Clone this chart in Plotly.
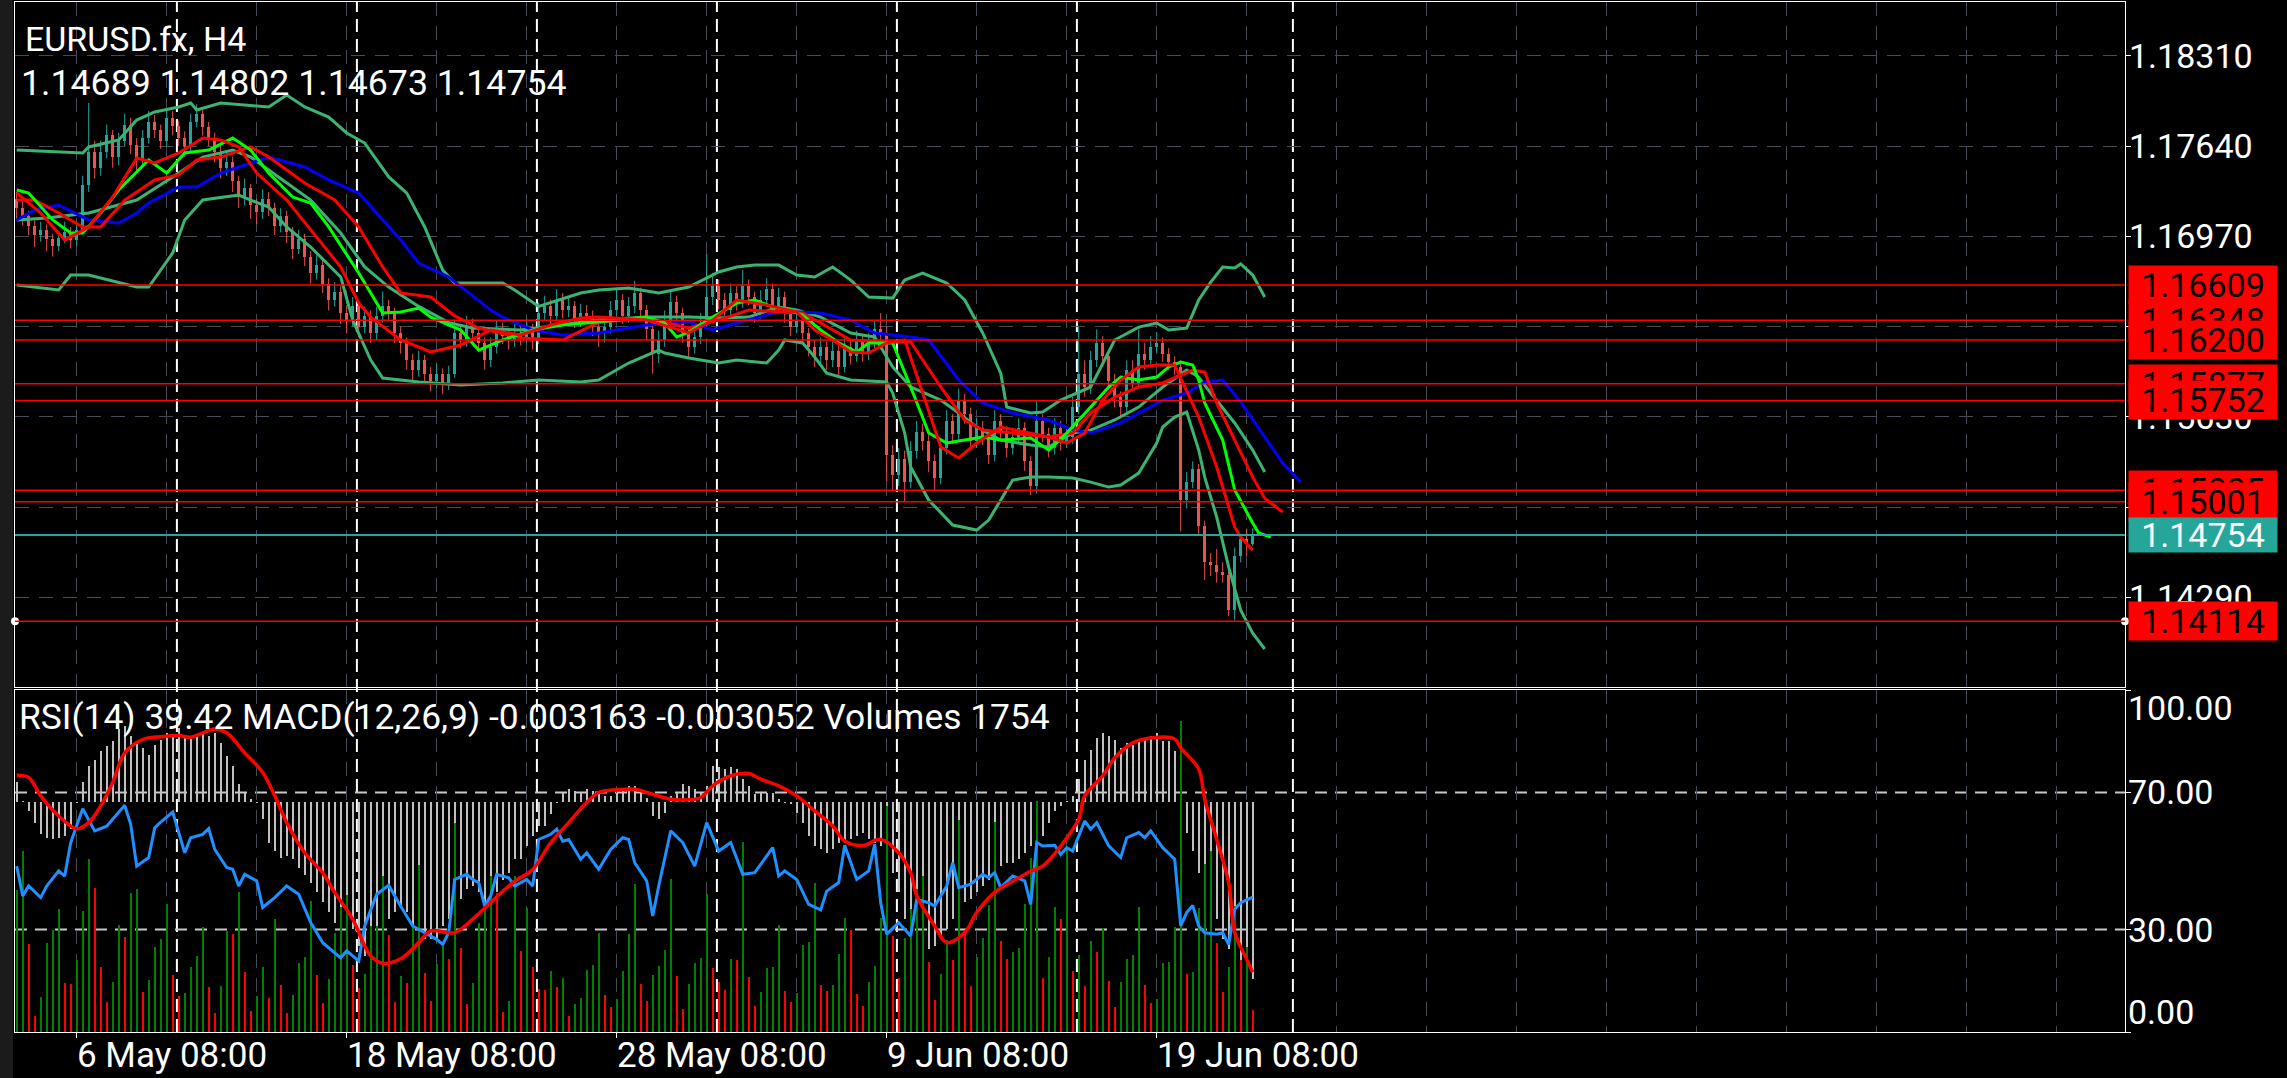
import plotly.graph_objects as go

# ---------------------------------------------------------------- data
CLOSE = [
    1.17180, 1.17120, 1.17050, 1.16980, 1.17020, 1.16950, 1.16900, 1.16960, 1.17000, 1.16940,
    1.17020, 1.17350, 1.17600, 1.17480, 1.17600, 1.17720, 1.17560, 1.17680, 1.17800, 1.17650,
    1.17540, 1.17700, 1.17820, 1.17760, 1.17680, 1.17850, 1.17790, 1.17700, 1.17640, 1.17820,
    1.17880, 1.17780, 1.17700, 1.17600, 1.17480, 1.17520, 1.17380, 1.17260, 1.17330, 1.17200,
    1.17150, 1.17250, 1.17180, 1.17050, 1.17120, 1.17000, 1.16880, 1.16950, 1.16820, 1.16700,
    1.16760, 1.16620, 1.16500, 1.16560, 1.16400, 1.16350, 1.16450, 1.16300, 1.16380, 1.16250,
    1.16380, 1.16450, 1.16400, 1.16250, 1.16180, 1.16050, 1.15980, 1.16050, 1.15950, 1.15900,
    1.15950, 1.15880, 1.15950, 1.16250, 1.16200, 1.16300, 1.16250, 1.16180, 1.16050, 1.16150,
    1.16280, 1.16230, 1.16200, 1.16250, 1.16220, 1.16280, 1.16200, 1.16400, 1.16450, 1.16380,
    1.16500, 1.16420, 1.16450, 1.16350, 1.16400, 1.16380, 1.16300, 1.16250, 1.16300, 1.16420,
    1.16500, 1.16380, 1.16450, 1.16550, 1.16420, 1.16280, 1.16100, 1.16200, 1.16350, 1.16480,
    1.16400, 1.16250, 1.16150, 1.16220, 1.16330, 1.16520, 1.16600, 1.16500, 1.16420, 1.16550,
    1.16480, 1.16600, 1.16520, 1.16400, 1.16500, 1.16580, 1.16450, 1.16520, 1.16400, 1.16300,
    1.16350, 1.16250, 1.16150, 1.16080, 1.16150, 1.16050, 1.16120, 1.16000, 1.16150, 1.16080,
    1.16200, 1.16100, 1.16180, 1.16280, 1.16250, 1.15350, 1.15200, 1.15320, 1.15150, 1.15380,
    1.15520, 1.15450, 1.15300, 1.15180, 1.15400, 1.15600, 1.15500, 1.15750, 1.15650, 1.15450,
    1.15550, 1.15480, 1.15350, 1.15600, 1.15520, 1.15400, 1.15480, 1.15550, 1.15300, 1.15120,
    1.15600, 1.15500, 1.15400, 1.15550, 1.15450, 1.15480, 1.15700, 1.15950, 1.15850, 1.16050,
    1.16180, 1.16080, 1.15900, 1.15780, 1.15700, 1.15980, 1.15880, 1.16100, 1.16050, 1.16150,
    1.16180, 1.16100, 1.16040, 1.16000, 1.15010, 1.15150, 1.15240, 1.14820, 1.14550, 1.14530,
    1.14480, 1.14460, 1.14200, 1.14600, 1.14720, 1.14689, 1.14754]

OPEN = [
    1.17250, 1.17180, 1.17120, 1.17050, 1.16980, 1.17020, 1.16950, 1.16900, 1.16960, 1.17000,
    1.16940, 1.17020, 1.17350, 1.17600, 1.17480, 1.17600, 1.17720, 1.17560, 1.17680, 1.17800,
    1.17650, 1.17540, 1.17700, 1.17820, 1.17760, 1.17680, 1.17850, 1.17790, 1.17700, 1.17640,
    1.17820, 1.17880, 1.17780, 1.17700, 1.17600, 1.17480, 1.17520, 1.17380, 1.17260, 1.17330,
    1.17200, 1.17150, 1.17250, 1.17180, 1.17050, 1.17120, 1.17000, 1.16880, 1.16950, 1.16820,
    1.16700, 1.16760, 1.16620, 1.16500, 1.16560, 1.16400, 1.16350, 1.16450, 1.16300, 1.16380,
    1.16250, 1.16380, 1.16450, 1.16400, 1.16250, 1.16180, 1.16050, 1.15980, 1.16050, 1.15950,
    1.15900, 1.15950, 1.15880, 1.15950, 1.16250, 1.16200, 1.16300, 1.16250, 1.16180, 1.16050,
    1.16150, 1.16280, 1.16230, 1.16200, 1.16250, 1.16220, 1.16280, 1.16200, 1.16400, 1.16450,
    1.16380, 1.16500, 1.16420, 1.16450, 1.16350, 1.16400, 1.16380, 1.16300, 1.16250, 1.16300,
    1.16420, 1.16500, 1.16380, 1.16450, 1.16550, 1.16420, 1.16280, 1.16100, 1.16200, 1.16350,
    1.16480, 1.16400, 1.16250, 1.16150, 1.16220, 1.16330, 1.16520, 1.16600, 1.16500, 1.16420,
    1.16550, 1.16480, 1.16600, 1.16520, 1.16400, 1.16500, 1.16580, 1.16450, 1.16520, 1.16400,
    1.16300, 1.16350, 1.16250, 1.16150, 1.16080, 1.16150, 1.16050, 1.16120, 1.16000, 1.16150,
    1.16080, 1.16200, 1.16100, 1.16180, 1.16280, 1.16250, 1.15350, 1.15200, 1.15320, 1.15150,
    1.15380, 1.15520, 1.15450, 1.15300, 1.15180, 1.15400, 1.15600, 1.15500, 1.15750, 1.15650,
    1.15450, 1.15550, 1.15480, 1.15350, 1.15600, 1.15520, 1.15400, 1.15480, 1.15550, 1.15300,
    1.15120, 1.15600, 1.15500, 1.15400, 1.15550, 1.15450, 1.15480, 1.15700, 1.15950, 1.15850,
    1.16050, 1.16180, 1.16080, 1.15900, 1.15780, 1.15700, 1.15980, 1.15880, 1.16100, 1.16050,
    1.16150, 1.16180, 1.16100, 1.16040, 1.16000, 1.15010, 1.15150, 1.15240, 1.14820, 1.14550,
    1.14530, 1.14480, 1.14460, 1.14200, 1.14600, 1.14720, 1.14689]

HIGH = [
    1.17300, 1.17230, 1.17160, 1.17090, 1.17080, 1.17060, 1.16990, 1.17010, 1.17080, 1.17040,
    1.17080, 1.17420, 1.17960, 1.17680, 1.17680, 1.17800, 1.17760, 1.17740, 1.17880, 1.17850,
    1.17700, 1.17760, 1.17900, 1.17870, 1.17800, 1.17920, 1.17900, 1.17830, 1.17750, 1.17880,
    1.17950, 1.17910, 1.17820, 1.17740, 1.17640, 1.17600, 1.17560, 1.17420, 1.17400, 1.17360,
    1.17250, 1.17320, 1.17300, 1.17220, 1.17180, 1.17160, 1.17040, 1.17020, 1.16990, 1.16860,
    1.16830, 1.16800, 1.16660, 1.16630, 1.16600, 1.16460, 1.16520, 1.16490, 1.16450, 1.16420,
    1.16450, 1.16560, 1.16500, 1.16440, 1.16300, 1.16220, 1.16100, 1.16120, 1.16090, 1.16000,
    1.16020, 1.15990, 1.16010, 1.16350, 1.16320, 1.16380, 1.16360, 1.16290, 1.16220, 1.16220,
    1.16350, 1.16330, 1.16290, 1.16320, 1.16310, 1.16360, 1.16320, 1.16480, 1.16530, 1.16500,
    1.16580, 1.16550, 1.16520, 1.16490, 1.16470, 1.16460, 1.16420, 1.16350, 1.16380, 1.16490,
    1.16580, 1.16540, 1.16520, 1.16640, 1.16590, 1.16460, 1.16320, 1.16270, 1.16420, 1.16560,
    1.16530, 1.16440, 1.16290, 1.16300, 1.16400, 1.16840, 1.16700, 1.16650, 1.16550, 1.16620,
    1.16600, 1.16720, 1.16650, 1.16560, 1.16570, 1.16660, 1.16620, 1.16590, 1.16560, 1.16440,
    1.16420, 1.16390, 1.16290, 1.16200, 1.16220, 1.16190, 1.16190, 1.16160, 1.16230, 1.16200,
    1.16270, 1.16240, 1.16250, 1.16350, 1.16400, 1.16300, 1.15420, 1.15400, 1.15380, 1.15450,
    1.15600, 1.15580, 1.15500, 1.15350, 1.15460, 1.15680, 1.15650, 1.15840, 1.15800, 1.15700,
    1.15620, 1.15600, 1.15520, 1.15680, 1.15650, 1.15560, 1.15550, 1.15620, 1.15590, 1.15340,
    1.15750, 1.15650, 1.15550, 1.15620, 1.15600, 1.15560, 1.15780, 1.16300, 1.16050, 1.16120,
    1.16280, 1.16230, 1.16120, 1.15950, 1.15820, 1.16050, 1.16050, 1.16280, 1.16180, 1.16230,
    1.16260, 1.16220, 1.16140, 1.16080, 1.16050, 1.15220, 1.15300, 1.15280, 1.14860, 1.14620,
    1.14650, 1.14550, 1.14500, 1.14660, 1.14760, 1.14800, 1.14802]

LOW = [
    1.17100, 1.17050, 1.16980, 1.16890, 1.16930, 1.16860, 1.16820, 1.16860, 1.16920, 1.16880,
    1.16900, 1.16990, 1.17300, 1.17400, 1.17420, 1.17550, 1.17480, 1.17500, 1.17640, 1.17580,
    1.17440, 1.17500, 1.17660, 1.17700, 1.17620, 1.17640, 1.17720, 1.17640, 1.17560, 1.17600,
    1.17780, 1.17720, 1.17640, 1.17520, 1.17400, 1.17420, 1.17300, 1.17180, 1.17200, 1.17100,
    1.17060, 1.17100, 1.17120, 1.16980, 1.17000, 1.16920, 1.16800, 1.16840, 1.16750, 1.16620,
    1.16650, 1.16550, 1.16420, 1.16450, 1.16320, 1.16250, 1.16300, 1.16220, 1.16250, 1.16180,
    1.16200, 1.16330, 1.16340, 1.16180, 1.16100, 1.15980, 1.15900, 1.15930, 1.15880, 1.15820,
    1.15850, 1.15800, 1.15830, 1.15920, 1.16140, 1.16150, 1.16190, 1.16110, 1.15980, 1.16000,
    1.16100, 1.16170, 1.16130, 1.16150, 1.16160, 1.16180, 1.16130, 1.16170, 1.16350, 1.16310,
    1.16340, 1.16360, 1.16370, 1.16290, 1.16300, 1.16320, 1.16230, 1.16150, 1.16180, 1.16250,
    1.16380, 1.16320, 1.16330, 1.16400, 1.16360, 1.16200, 1.15950, 1.16030, 1.16150, 1.16300,
    1.16340, 1.16180, 1.16060, 1.16100, 1.16170, 1.16280, 1.16460, 1.16430, 1.16350, 1.16380,
    1.16420, 1.16440, 1.16460, 1.16330, 1.16360, 1.16450, 1.16390, 1.16400, 1.16330, 1.16230,
    1.16250, 1.16180, 1.16080, 1.16000, 1.16030, 1.15980, 1.16000, 1.15930, 1.15960, 1.16020,
    1.16040, 1.16040, 1.16050, 1.16130, 1.16180, 1.15150, 1.15080, 1.15120, 1.15000, 1.15100,
    1.15320, 1.15380, 1.15220, 1.15080, 1.15130, 1.15350, 1.15430, 1.15450, 1.15580, 1.15380,
    1.15400, 1.15420, 1.15280, 1.15300, 1.15460, 1.15330, 1.15350, 1.15430, 1.15230, 1.15050,
    1.15060, 1.15440, 1.15330, 1.15350, 1.15380, 1.15400, 1.15430, 1.15650, 1.15780, 1.15800,
    1.16000, 1.16000, 1.15830, 1.15700, 1.15620, 1.15650, 1.15820, 1.15840, 1.15980, 1.16000,
    1.16100, 1.16040, 1.15980, 1.15940, 1.14780, 1.14950, 1.15100, 1.14750, 1.14420, 1.14450,
    1.14400, 1.14400, 1.14150, 1.14120, 1.14550, 1.14600, 1.14673]

VOLUME = [
    11475, 14634, 7128, 1269, 2808, 7182, 8289, 9936, 3969, 3888,
    5805, 9774, 13986, 11664, 5238, 2403, 4050, 8640, 7668, 11232,
    11556, 3213, 4185, 6858, 7506, 10341, 4590, 2889, 3132, 5238,
    6129, 8478, 3618, 1512, 3699, 8154, 7911, 11313, 4860, 1674,
    2889, 5238, 2727, 9126, 3780, 1512, 2970, 5562, 6048, 10584,
    4590, 2322, 4266, 7992, 10098, 11070, 5400, 3537, 4671, 8559,
    8559, 12609, 7830, 2403, 4509, 3942, 8559, 13500, 4752, 2484,
    5481, 6939, 5886, 16902, 6777, 2241, 3942, 8802, 10422, 12609,
    11232, 1593, 2484, 12609, 6588, 10044, 5238, 3456, 3375, 4914,
    3618, 4347, 1269, 2241, 2727, 4995, 5400, 7992, 2970, 1998,
    2646, 4914, 7911, 11961, 3861, 2484, 4590, 5319, 6615, 12366,
    4509, 1836, 3861, 5562, 5967, 11151, 5157, 4023, 3375, 5886,
    5805, 15363, 4428, 2079, 3213, 5157, 5238, 8640, 3294, 2403,
    3132, 7020, 7263, 12042, 3780, 3294, 3780, 6291, 9207, 8235,
    3051, 2079, 4023, 5319, 9207, 18279, 7749, 4347, 7587, 9936,
    11556, 12609, 5643, 2565, 4671, 7425, 5805, 17145, 7911, 3699,
    6048, 7587, 10260, 16983, 7344, 5886, 6453, 6777, 10341, 14067,
    18684, 4347, 6048, 10098, 9126, 14877, 4914, 6210, 3699, 7344,
    6453, 8397, 4104, 1998, 4023, 5886, 6210, 10098, 3780, 2322,
    2646, 5562, 5643, 8478, 25164, 4671, 4833, 10017, 13581, 14634,
    7182, 3213, 5238, 10179, 5805, 6858, 1754]

MACD_MAIN = [
    0.00035, 0.00002, -0.00016, -0.00037, -0.00058, -0.00064, -0.00067, -0.00064, -0.00061, -0.00049,
    -0.00001, 0.00035, 0.00064, 0.00076, 0.00091, 0.00100, 0.00109, 0.00130, 0.00136, 0.00118,
    0.00109, 0.00097, 0.00085, 0.00103, 0.00112, 0.00124, 0.00118, 0.00133, 0.00115, 0.00118,
    0.00121, 0.00124, 0.00118, 0.00124, 0.00106, 0.00082, 0.00064, 0.00032, 0.00017, 0.00005,
    -0.00002, -0.00031, -0.00073, -0.00088, -0.00100, -0.00097, -0.00103, -0.00118, -0.00130, -0.00145,
    -0.00162, -0.00180, -0.00198, -0.00216, -0.00210, -0.00198, -0.00228, -0.00258, -0.00276, -0.00288,
    -0.00270, -0.00228, -0.00210, -0.00198, -0.00186, -0.00198, -0.00222, -0.00234, -0.00246, -0.00246,
    -0.00246, -0.00222, -0.00210, -0.00192, -0.00174, -0.00156, -0.00151, -0.00162, -0.00186, -0.00174,
    -0.00162, -0.00139, -0.00127, -0.00103, -0.00103, -0.00079, -0.00061, -0.00043, -0.00043, -0.00022,
    -0.00001, 0.00017, 0.00023, 0.00020, 0.00017, 0.00023, 0.00020, 0.00014, 0.00011, 0.00011,
    0.00017, 0.00023, 0.00029, 0.00029, 0.00017, 0.00008, -0.00025, -0.00031, -0.00019, 0.00011,
    0.00017, 0.00032, 0.00029, 0.00023, 0.00017, 0.00029, 0.00065, 0.00062, 0.00059, 0.00062,
    0.00059, 0.00041, 0.00029, 0.00014, 0.00017, 0.00017, 0.00017, 0.00005, -0.00001, -0.00004,
    -0.00019, -0.00037, -0.00061, -0.00079, -0.00085, -0.00091, -0.00085, -0.00073, -0.00073, -0.00067,
    -0.00061, -0.00055, -0.00067, -0.00073, -0.00079, -0.00091, -0.00127, -0.00162, -0.00210, -0.00234,
    -0.00252, -0.00258, -0.00264, -0.00258, -0.00246, -0.00228, -0.00210, -0.00198, -0.00180, -0.00174,
    -0.00162, -0.00151, -0.00139, -0.00127, -0.00115, -0.00109, -0.00109, -0.00103, -0.00091, -0.00079,
    -0.00061, -0.00061, -0.00037, -0.00016, -0.00007, 0.00002, 0.00011, 0.00041, 0.00076, 0.00094,
    0.00115, 0.00124, 0.00118, 0.00112, 0.00097, 0.00106, 0.00103, 0.00109, 0.00112, 0.00118,
    0.00124, 0.00109, 0.00109, 0.00091, -0.00031, -0.00055, -0.00088, -0.00127, -0.00151, -0.00174,
    -0.00210, -0.00246, -0.00264, -0.00288, -0.00300, -0.00306, -0.003163]

SIGNAL_BARS = [0, 2, 4, 7, 10, 12, 14, 16, 18, 21, 24, 27, 29, 31, 33, 35, 38, 41, 43, 45,
               48, 51, 53, 56, 58, 59, 61, 64, 67, 69, 73, 76, 79, 83, 86, 89, 92, 95, 97, 100,
               103, 106, 109, 112, 114, 116, 119, 122, 124, 127, 130, 133, 136, 138, 141, 144, 147, 149, 150, 153,
               155, 158, 160, 163, 166, 169, 171, 174, 177, 178, 181, 183, 186, 188, 193, 194, 197, 198, 200, 202,
               203, 205, 206]
SIGNAL_VALUES = [0.00048, 0.00044, 0.00011, -0.00025, -0.00048, -0.00037, -0.00007, 0.00035, 0.00088, 0.00112,
                 0.00117, 0.00119, 0.00116, 0.00124, 0.00131, 0.00124, 0.00088, 0.00053, 0.00011, -0.00037,
                 -0.00091, -0.00127, -0.00162, -0.00210, -0.00258, -0.00276, -0.00289, -0.00281, -0.00252, -0.00231,
                 -0.00234, -0.00210, -0.00180, -0.00142, -0.00121, -0.00073, -0.00037, -0.00001, 0.00017, 0.00022,
                 0.00023, 0.00014, 0.00005, 0.00004, 0.00008, 0.00029, 0.00047, 0.00051, 0.00041, 0.00029,
                 0.00011, -0.00016, -0.00043, -0.00070, -0.00078, -0.00067, -0.00091, -0.00127, -0.00168, -0.00222,
                 -0.00252, -0.00234, -0.00198, -0.00162, -0.00142, -0.00124, -0.00115, -0.00079, -0.00031, 0.00011,
                 0.00047, 0.00079, 0.00106, 0.00113, 0.00113, 0.00097, 0.00059, 0.00005, -0.00067, -0.00145,
                 -0.00234, -0.00282, -0.003052]

RSI_BARS = [0, 1, 2, 4, 5, 7, 8, 9, 11, 12, 13, 15, 17, 18, 19, 20, 22, 23, 24, 26,
            28, 29, 31, 32, 33, 35, 36, 37, 38, 40, 41, 43, 45, 47, 49, 51, 54, 55, 57, 58,
            60, 62, 64, 66, 68, 70, 71, 72, 73, 75, 76, 77, 78, 79, 80, 82, 83, 84, 85, 86,
            87, 89, 90, 91, 92, 94, 95, 97, 99, 101, 102, 103, 105, 106, 107, 109, 111, 113, 115, 117,
            119, 121, 123, 126, 127, 128, 130, 132, 134, 135, 137, 138, 140, 142, 143, 144, 145, 147, 149, 150,
            152, 153, 155, 156, 157, 159, 161, 162, 163, 164, 166, 168, 169, 170, 171, 173, 174, 175, 176, 178,
            179, 180, 182, 184, 185, 187, 188, 189, 191, 193, 194, 195, 196, 197, 198, 200, 201, 202, 203, 204,
            206]
RSI_VALUES = [48.5, 39.8, 42.7, 39.3, 42.7, 47.1, 45.6, 55.4, 65.3, 62.2, 58.8, 60.2, 64.1, 66.3, 60.7, 48.5, 51.0, 59.7, 61.4, 64.3,
              52.4, 56.8, 57.8, 59.5, 53.4, 48.1, 47.6, 42.7, 46.1, 44.2, 36.4, 39.3, 42.7, 40.3, 32.0, 26.1, 21.7, 23.7, 20.8, 31.0,
              40.3, 42.9, 36.8, 31.0, 29.0, 27.1, 25.6, 29.0, 44.6, 46.1, 44.6, 43.7, 36.8, 39.8, 46.1, 45.1, 42.7, 43.7, 44.6, 42.7,
              56.3, 57.8, 59.3, 55.8, 56.3, 50.5, 52.4, 47.6, 53.4, 56.8, 56.3, 49.5, 44.2, 33.9, 42.7, 58.8, 55.4, 48.5, 61.2, 52.9,
              55.4, 46.1, 46.6, 53.9, 45.6, 47.1, 44.6, 37.3, 35.7, 41.2, 43.7, 54.6, 44.6, 47.1, 54.9, 37.8, 28.6, 32.0, 28.1, 38.8,
              37.8, 36.8, 42.7, 49.5, 42.2, 43.2, 46.1, 45.1, 46.6, 42.2, 45.6, 44.2, 37.3, 55.4, 54.4, 54.6, 51.9, 53.9, 52.9, 61.7,
              59.3, 61.2, 54.4, 51.0, 56.8, 58.3, 56.8, 58.8, 53.9, 50.5, 31.0, 34.9, 37.0, 31.0, 29.0, 28.6, 29.0, 25.6, 35.9, 37.8,
              39.42]

# Alligator jaw (blue), teeth (red), lips (green) -- plotted at their shifted bars
JAW_BARS = [0, 3, 7, 12, 17, 20, 22, 27, 30, 34, 39, 42, 48, 52, 57, 60, 64, 67, 72, 79,
            81, 86, 91, 97, 105, 112, 116, 120, 126, 130, 134, 139, 143, 149, 152, 157, 161, 166, 172, 176,
            179, 184, 187, 191, 195, 198, 201, 204, 208, 211, 214]
JAW = [1.17092, 1.17166, 1.17203, 1.17092, 1.17069, 1.17144, 1.17218, 1.17337, 1.17337, 1.17440,
       1.17515, 1.17559, 1.17485, 1.17389, 1.17292, 1.17144, 1.16943, 1.16772, 1.16669, 1.16423,
       1.16371, 1.16275, 1.16238, 1.16253, 1.16312, 1.16334, 1.16275, 1.16327, 1.16401, 1.16409,
       1.16401, 1.16349, 1.16253, 1.16223, 1.16201, 1.15904, 1.15733, 1.15659, 1.15607, 1.15532,
       1.15510, 1.15585, 1.15659, 1.15755, 1.15807, 1.15889, 1.15904, 1.15740, 1.15481, 1.15288,
       1.15147]

TEETH_BARS = [0, 3, 7, 11, 14, 18, 23, 27, 30, 34, 39, 42, 48, 53, 57, 61, 64, 69, 73, 77,
              84, 91, 97, 105, 112, 117, 122, 127, 131, 139, 145, 149, 154, 158, 161, 166, 172, 176, 179, 183,
              187, 191, 196, 198, 200, 203, 206, 208, 211]
TEETH = [1.17240, 1.17240, 1.17144, 1.17040, 1.17040, 1.17240, 1.17389, 1.17426, 1.17537, 1.17559,
         1.17634, 1.17559, 1.17366, 1.17240, 1.17040, 1.16743, 1.16550, 1.16520, 1.16380, 1.16290,
         1.16216, 1.16201, 1.16334, 1.16364, 1.16290, 1.16349, 1.16423, 1.16409, 1.16401, 1.16201,
         1.16186, 1.16186, 1.15852, 1.15607, 1.15532, 1.15510, 1.15481, 1.15510, 1.15659, 1.15778,
         1.15852, 1.15882, 1.15978, 1.15963, 1.15733, 1.15458, 1.15183, 1.15027, 1.14923]

LIPS_BARS = [0, 2, 6, 9, 11, 14, 17, 22, 25, 28, 32, 36, 39, 42, 46, 49, 52, 57, 61, 64,
             67, 69, 74, 77, 81, 86, 91, 97, 105, 108, 110, 112, 116, 120, 123, 126, 129, 131, 134, 137,
             140, 142, 146, 149, 152, 155, 158, 161, 164, 169, 172, 175, 179, 182, 184, 187, 190, 192, 194, 196,
             197, 198, 201, 203, 206, 207, 209]
LIPS = [1.17314, 1.17292, 1.17092, 1.16995, 1.16995, 1.17144, 1.17314, 1.17537, 1.17440, 1.17589,
        1.17611, 1.17700, 1.17611, 1.17440, 1.17262, 1.17218, 1.17040, 1.16698, 1.16401, 1.16409,
        1.16438, 1.16371, 1.16275, 1.16126, 1.16201, 1.16275, 1.16312, 1.16334, 1.16371, 1.16327,
        1.16223, 1.16260, 1.16371, 1.16475, 1.16498, 1.16446, 1.16423, 1.16386, 1.16275, 1.16179,
        1.16112, 1.16179, 1.16179, 1.15852, 1.15510, 1.15436, 1.15458, 1.15481, 1.15458, 1.15473,
        1.15384, 1.15510, 1.15703, 1.15852, 1.15926, 1.15904, 1.15926, 1.16001, 1.16037, 1.16015,
        1.15904, 1.15733, 1.15458, 1.15087, 1.14842, 1.14768, 1.14738]

MA_BARS = [0, 4, 8, 12, 16, 20, 23, 27, 31, 34, 37, 40, 45, 49, 54, 57, 59, 64, 69, 74,
           79, 84, 89, 94, 97, 105, 112, 116, 120, 125, 130, 133, 136, 139, 142, 145, 148, 151, 154, 157,
           160, 164, 169, 172, 175, 178, 181, 184, 187, 190, 193, 197, 200, 203, 204, 206]
MA_FAST = [1.17292, 1.17144, 1.16943, 1.17040, 1.17262, 1.17552, 1.17515, 1.17589, 1.17700, 1.17686,
           1.17634, 1.17440, 1.17240, 1.17017, 1.16743, 1.16476, 1.16371, 1.16201, 1.16112, 1.16164,
           1.16275, 1.16238, 1.16312, 1.16364, 1.16371, 1.16349, 1.16253, 1.16349, 1.16498, 1.16460,
           1.16409, 1.16275, 1.16201, 1.16112, 1.16104, 1.16179, 1.16201, 1.15807, 1.15407, 1.15325,
           1.15436, 1.15555, 1.15510, 1.15481, 1.15436, 1.15510, 1.15755, 1.15904, 1.16000, 1.16015,
           1.16015, 1.15629, 1.15258, 1.14812, 1.14738, 1.14641]

BB_UP_BARS = [0, 11, 12, 17, 20, 23, 27, 29, 30, 34, 42, 45, 48, 52, 55, 58, 62, 65, 68, 71,
              73, 81, 83, 87, 94, 97, 102, 107, 112, 117, 120, 123, 127, 130, 133, 136, 139, 142, 146, 148,
              151, 155, 158, 161, 164, 165, 169, 171, 174, 179, 183, 187, 190, 192, 195, 197, 199, 201, 203, 204,
              206, 208]
BB_UP = [1.17611, 1.17589, 1.17634, 1.17686, 1.17834, 1.17894, 1.17931, 1.17960, 1.17908, 1.17960,
         1.17931, 1.18020, 1.17931, 1.17856, 1.17738, 1.17663, 1.17411, 1.17292, 1.17040, 1.16720,
         1.16624, 1.16624, 1.16572, 1.16450, 1.16550, 1.16572, 1.16587, 1.16550, 1.16594, 1.16706,
         1.16743, 1.16757, 1.16757, 1.16683, 1.16669, 1.16743, 1.16646, 1.16520, 1.16512, 1.16646,
         1.16698, 1.16624, 1.16498, 1.16253, 1.15955, 1.15703, 1.15659, 1.15666, 1.15755, 1.15852,
         1.16201, 1.16297, 1.16327, 1.16275, 1.16290, 1.16498, 1.16631, 1.16743, 1.16735, 1.16765,
         1.16683, 1.16520]

BB_MID_BARS = [0, 5, 12, 20, 26, 31, 36, 39, 42, 49, 54, 58, 62, 67, 72, 76, 84, 91, 97, 105,
               112, 117, 122, 127, 130, 134, 139, 143, 146, 149, 154, 157, 160, 164, 169, 172, 176, 179, 183, 187,
               191, 195, 197, 199, 203, 206, 208]
BB_MID = [1.17092, 1.17107, 1.17144, 1.17240, 1.17411, 1.17559, 1.17611, 1.17559, 1.17463, 1.17240,
          1.16995, 1.16743, 1.16594, 1.16450, 1.16330, 1.16290, 1.16275, 1.16312, 1.16349, 1.16371,
          1.16371, 1.16364, 1.16371, 1.16446, 1.16423, 1.16371, 1.16253, 1.16223, 1.16001, 1.15852,
          1.15755, 1.15659, 1.15555, 1.15458, 1.15421, 1.15407, 1.15510, 1.15532, 1.15607, 1.15703,
          1.15852, 1.15978, 1.15926, 1.15807, 1.15585, 1.15384, 1.15221]

BB_LOW_BARS = [0, 7, 9, 12, 20, 22, 26, 28, 31, 37, 39, 42, 45, 49, 54, 56, 59, 61, 67, 74,
               81, 87, 94, 97, 102, 107, 108, 112, 117, 120, 125, 127, 128, 131, 133, 135, 139, 145, 146, 148,
               149, 152, 156, 160, 162, 164, 166, 169, 172, 176, 179, 182, 184, 187, 190, 191, 193, 195, 197, 198,
               200, 202, 204, 206, 208]
BB_LOW = [1.16609, 1.16572, 1.16683, 1.16683, 1.16594, 1.16594, 1.16847, 1.17092, 1.17240, 1.17277,
          1.17240, 1.17188, 1.17040, 1.16891, 1.16669, 1.16349, 1.16052, 1.15919, 1.15889, 1.15867,
          1.15882, 1.15904, 1.15889, 1.15904, 1.16030, 1.16126, 1.16104, 1.16067, 1.16030, 1.16052,
          1.16030, 1.16126, 1.16201, 1.16179, 1.16074, 1.15955, 1.15904, 1.15889, 1.15807, 1.15510,
          1.15258, 1.15013, 1.14827, 1.14790, 1.14864, 1.15013, 1.15161, 1.15183, 1.15183, 1.15176,
          1.15146, 1.15109, 1.15124, 1.15213, 1.15436, 1.15555, 1.15629, 1.15666, 1.15384, 1.15183,
          1.14886, 1.14515, 1.14196, 1.14025, 1.13907]

LEVELS = [1.16609, 1.16348, 1.16200, 1.15877, 1.15752, 1.15085, 1.15001]
SELECTED_LEVEL = 1.14114
BID = 1.14754
PRICE_TICKS = [1.18310, 1.17640, 1.16970, 1.16300, 1.15630, 1.14960, 1.14290]
RSI_TICKS = [0, 30, 70, 100]
RSI_LEVELS = [30, 70]
TIME_TICK_BARS = [10, 55, 100, 145, 190]
TIME_TICK_TEXT = ["6 May 08:00", "18 May 08:00", "28 May 08:00", "9 Jun 08:00", "19 Jun 08:00"]
GRID_BARS = [10 + 15 * k for k in range(24)]
SEPARATOR_BARS = [26.7, 56.7, 86.7, 116.7, 146.7, 176.7, 212.7]

TITLE = "EURUSD.fx, H4"
SUB_TITLE = "RSI(14) 39.42 MACD(12,26,9) -0.003163 -0.003052 Volumes 1754"

# ---------------------------------------------------------------- geometry / style
W, H = 2287, 1078
ML, MR, MT, MB = 15, 162, 2, 46
PW, PH = W - ML - MR, H - MT - MB
BAR_PX = 6.0
X_MIN = -1.7 / BAR_PX
X_MAX = X_MIN + PW / BAR_PX
P_TOP, P_BOT = 1.18710, 1.13625
MACD_RANGE = [-0.0041215, 0.0020070]
VOL_RANGE = [0, 27700]

UP, DOWN = "#26a69a", "#ef5350"
GRID = "#454a57"
FONT = "Roboto"


def paper_y(row):
    return (H - MB - row) / PH


def paper_x(col):
    return (col - ML) / PW


BARS = list(range(len(CLOSE)))
is_up = [c >= o for o, c in zip(OPEN, CLOSE)]

fig = go.Figure()

# candle wicks
for flag, col in ((True, UP), (False, DOWN)):
    xs, ys = [], []
    for i in BARS:
        if is_up[i] == flag:
            xs += [i, i, None]
            ys += [LOW[i], HIGH[i], None]
    fig.add_trace(go.Scatter(x=xs, y=ys, mode="lines", line=dict(color=col, width=1),
                             hoverinfo="skip", xaxis="x", yaxis="y"))

# candle bodies
fig.add_trace(go.Bar(
    x=BARS, y=[abs(c - o) for o, c in zip(OPEN, CLOSE)], base=[min(o, c) for o, c in zip(OPEN, CLOSE)],
    width=0.5, marker=dict(color=[UP if u else DOWN for u in is_up], line=dict(width=0)),
    hoverinfo="skip", xaxis="x", yaxis="y"))

# Bollinger bands
for bx, by in ((BB_UP_BARS, BB_UP), (BB_MID_BARS, BB_MID), (BB_LOW_BARS, BB_LOW)):
    fig.add_trace(go.Scatter(x=bx, y=by, mode="lines", line=dict(color="#3cb371", width=3),
                             hoverinfo="skip", xaxis="x", yaxis="y"))
# Alligator + MA
fig.add_trace(go.Scatter(x=JAW_BARS, y=JAW, mode="lines", line=dict(color="#0000ff", width=3),
                         hoverinfo="skip", xaxis="x", yaxis="y"))
fig.add_trace(go.Scatter(x=TEETH_BARS, y=TEETH, mode="lines", line=dict(color="#ff0000", width=3),
                         hoverinfo="skip", xaxis="x", yaxis="y"))
fig.add_trace(go.Scatter(x=LIPS_BARS, y=LIPS, mode="lines", line=dict(color="#00ff00", width=3),
                         hoverinfo="skip", xaxis="x", yaxis="y"))
fig.add_trace(go.Scatter(x=MA_BARS, y=MA_FAST, mode="lines", line=dict(color="#ff0000", width=3),
                         hoverinfo="skip", xaxis="x", yaxis="y"))

# selected line end markers
fig.add_trace(go.Scatter(x=[X_MIN, X_MAX], y=[SELECTED_LEVEL, SELECTED_LEVEL], mode="markers",
                         marker=dict(color="white", size=8), cliponaxis=False,
                         hoverinfo="skip", xaxis="x", yaxis="y"))

# ---- sub window: MACD histogram (base axis y2), volumes (y3), RSI (y4), signal (y5)
fig.add_trace(go.Bar(x=BARS, y=MACD_MAIN, width=0.28, marker=dict(color="#c0c0c0", line=dict(width=0)),
                     hoverinfo="skip", xaxis="x2", yaxis="y2"))
vol_colors = ["#008000"] + ["#008000" if VOLUME[i] >= VOLUME[i - 1] else "#ff0000" for i in BARS[1:]]
fig.add_trace(go.Bar(x=BARS, y=VOLUME, width=0.34, marker=dict(color=vol_colors, line=dict(width=0)),
                     hoverinfo="skip", xaxis="x2", yaxis="y3"))
fig.add_trace(go.Scatter(x=RSI_BARS, y=RSI_VALUES, mode="lines", line=dict(color="#1e90ff", width=3),
                         hoverinfo="skip", xaxis="x2", yaxis="y4"))
fig.add_trace(go.Scatter(x=SIGNAL_BARS, y=SIGNAL_VALUES, mode="lines", line=dict(color="#ff0000", width=3.5),
                         line_shape="spline", hoverinfo="skip", xaxis="x2", yaxis="y5"))

# ---------------------------------------------------------------- shapes
shapes = []
shapes.append(dict(type="rect", xref="paper", yref="paper", x0=paper_x(0), x1=paper_x(13),
                   y0=paper_y(H), y1=paper_y(0), fillcolor="#1b1b1b", line=dict(width=0), layer="below"))
for s in SEPARATOR_BARS:
    shapes.append(dict(type="line", xref="x", yref="paper", x0=s, x1=s, y0=0, y1=1,
                       line=dict(color="white", width=2, dash="13px,7px"), layer="below"))
for lv in RSI_LEVELS:
    shapes.append(dict(type="line", xref="x2", yref="y4", x0=X_MIN, x1=X_MAX, y0=lv, y1=lv,
                       line=dict(color="#c8c8c8", width=2, dash="12px,8px"), layer="below"))
for lv in LEVELS + [SELECTED_LEVEL]:
    shapes.append(dict(type="line", xref="paper", yref="y", x0=0, x1=1, y0=lv, y1=lv,
                       line=dict(color="#ff0000", width=1.5), layer="above"))
shapes.append(dict(type="line", xref="paper", yref="y", x0=0, x1=1, y0=BID, y1=BID,
                   line=dict(color=UP, width=2), layer="above"))

# ---------------------------------------------------------------- annotations (texts)
WHITE34 = dict(family=FONT, size=34, color="white")
ann = []
ann.append(dict(text=TITLE, x=paper_x(22.5), y=paper_y(38.5), xref="paper", yref="paper",
                xanchor="left", yanchor="middle", showarrow=False, font=WHITE34))
ann.append(dict(text=" ".join(f"{v:.5f}" for v in (OPEN[-1], HIGH[-1], LOW[-1], CLOSE[-1])),
                x=paper_x(19), y=paper_y(83), xref="paper", yref="paper",
                xanchor="left", yanchor="middle", showarrow=False,
                font=dict(family=FONT, size=35.7, color="white")))
ann.append(dict(text=SUB_TITLE, x=paper_x(16.5), y=paper_y(716.5), xref="paper", yref="paper",
                xanchor="left", yanchor="middle", showarrow=False,
                font=dict(family=FONT, size=35.4, color="white")))
# price axis labels
for p in PRICE_TICKS:
    ann.append(dict(text=f"{p:.5f}", x=paper_x(2127), y=p, xref="paper", yref="y",
                    xanchor="left", yanchor="middle", showarrow=False, font=WHITE34))
# RSI axis labels (edge labels sit inside the window)
rsi_rows = {100: 708, 70: 792, 30: 930, 0: 1012}
for v in RSI_TICKS:
    ann.append(dict(text=f"{v:.2f}", x=paper_x(2126), y=paper_y(rsi_rows[v]), xref="paper", yref="paper",
                    xanchor="left", yanchor="middle", showarrow=False, font=WHITE34))
# time axis labels, left aligned at their tick
for b, t in zip(TIME_TICK_BARS, TIME_TICK_TEXT):
    ann.append(dict(text=t, x=b, xref="x2", y=paper_y(1055), yref="paper", xanchor="left", xshift=-2,
                    yanchor="middle", showarrow=False, font=dict(family=FONT, size=35, color="white")))
# price level tags
for lv in LEVELS:
    ann.append(dict(text=f"{lv:.5f}", x=paper_x(2128), y=lv, xref="paper", yref="y", xanchor="left",
                    yanchor="middle", showarrow=False, bgcolor="#ff0000", width=144, height=34, borderpad=2,
                    align="center", font=dict(family=FONT, size=34, color="black")))
ann.append(dict(text=f"{BID:.5f}", x=paper_x(2128), y=BID, xref="paper", yref="y", xanchor="left",
                yanchor="middle", showarrow=False, bgcolor=UP, width=144, height=30, borderpad=2,
                align="center", font=dict(family=FONT, size=34, color="white")))
ann.append(dict(text=f"{SELECTED_LEVEL:.5f}", x=paper_x(2128), y=SELECTED_LEVEL, xref="paper", yref="y",
                xanchor="left", yanchor="middle", showarrow=False, bgcolor="#ff0000", width=144, height=34,
                borderpad=2, align="center", font=dict(family=FONT, size=34, color="black")))

# ---------------------------------------------------------------- axes
main_dom = [paper_y(687), 1]
sub_dom = [0, paper_y(690)]
dash = "14px,10px"

fig.update_layout(
    template="none",
    width=W, height=H,
    margin=dict(l=ML, r=MR, t=MT, b=MB, pad=0),
    paper_bgcolor="black", plot_bgcolor="black",
    showlegend=False, barmode="overlay", bargap=0,
    font=dict(family=FONT, color="white"),
    shapes=shapes, annotations=ann,
    xaxis=dict(domain=[0, 1], range=[X_MIN, X_MAX], anchor="y", showline=True, mirror=True,
               linecolor="white", linewidth=1, tickmode="array", tickvals=GRID_BARS, showticklabels=False,
               ticks="", showgrid=True, gridcolor=GRID, gridwidth=1, griddash=dash,
               zeroline=False, automargin=False, fixedrange=True),
    xaxis2=dict(domain=[0, 1], range=[X_MIN, X_MAX], anchor="y2", showline=True, mirror=True,
                linecolor="white", linewidth=1, tickmode="array", tickvals=TIME_TICK_BARS,
                showticklabels=False, ticks="outside", ticklen=5, tickcolor="white", tickwidth=1,
                showgrid=True, gridcolor=GRID, gridwidth=1, griddash=dash,
                minor=dict(tickmode="array", tickvals=GRID_BARS, showgrid=True, gridcolor=GRID,
                           gridwidth=1, griddash=dash, ticks=""),
                zeroline=False, automargin=False, fixedrange=True),
    yaxis=dict(domain=main_dom, range=[P_BOT, P_TOP], anchor="x", side="right", showline=True, mirror=True,
               linecolor="white", linewidth=1, tickmode="array", tickvals=PRICE_TICKS,
               showticklabels=False, ticks="outside", ticklen=5, tickcolor="white",
               showgrid=True, gridcolor=GRID, gridwidth=1, griddash=dash,
               zeroline=False, automargin=False, fixedrange=True),
    yaxis2=dict(domain=sub_dom, range=MACD_RANGE, anchor="x2", side="right", showline=True, mirror=True,
                linecolor="white", linewidth=1, showticklabels=False, ticks="", showgrid=False,
                zeroline=False, automargin=False, fixedrange=True),
    yaxis3=dict(overlaying="y2", range=VOL_RANGE, visible=False, fixedrange=True),
    yaxis4=dict(overlaying="y2", range=[0, 100], side="right", anchor="x2", tickmode="array",
                tickvals=RSI_TICKS, showticklabels=False, ticks="outside", ticklen=5, tickcolor="white",
                showgrid=False, showline=False, zeroline=False, automargin=False, fixedrange=True),
    yaxis5=dict(overlaying="y2", range=MACD_RANGE, visible=False, fixedrange=True),
)

# the page body gets no default margin so the figure fills the window exactly
fig.write_html("out.html", config={"displayModeBar": False, "staticPlot": True},
               post_script="document.body.style.margin='0';document.body.style.overflow='hidden';")
